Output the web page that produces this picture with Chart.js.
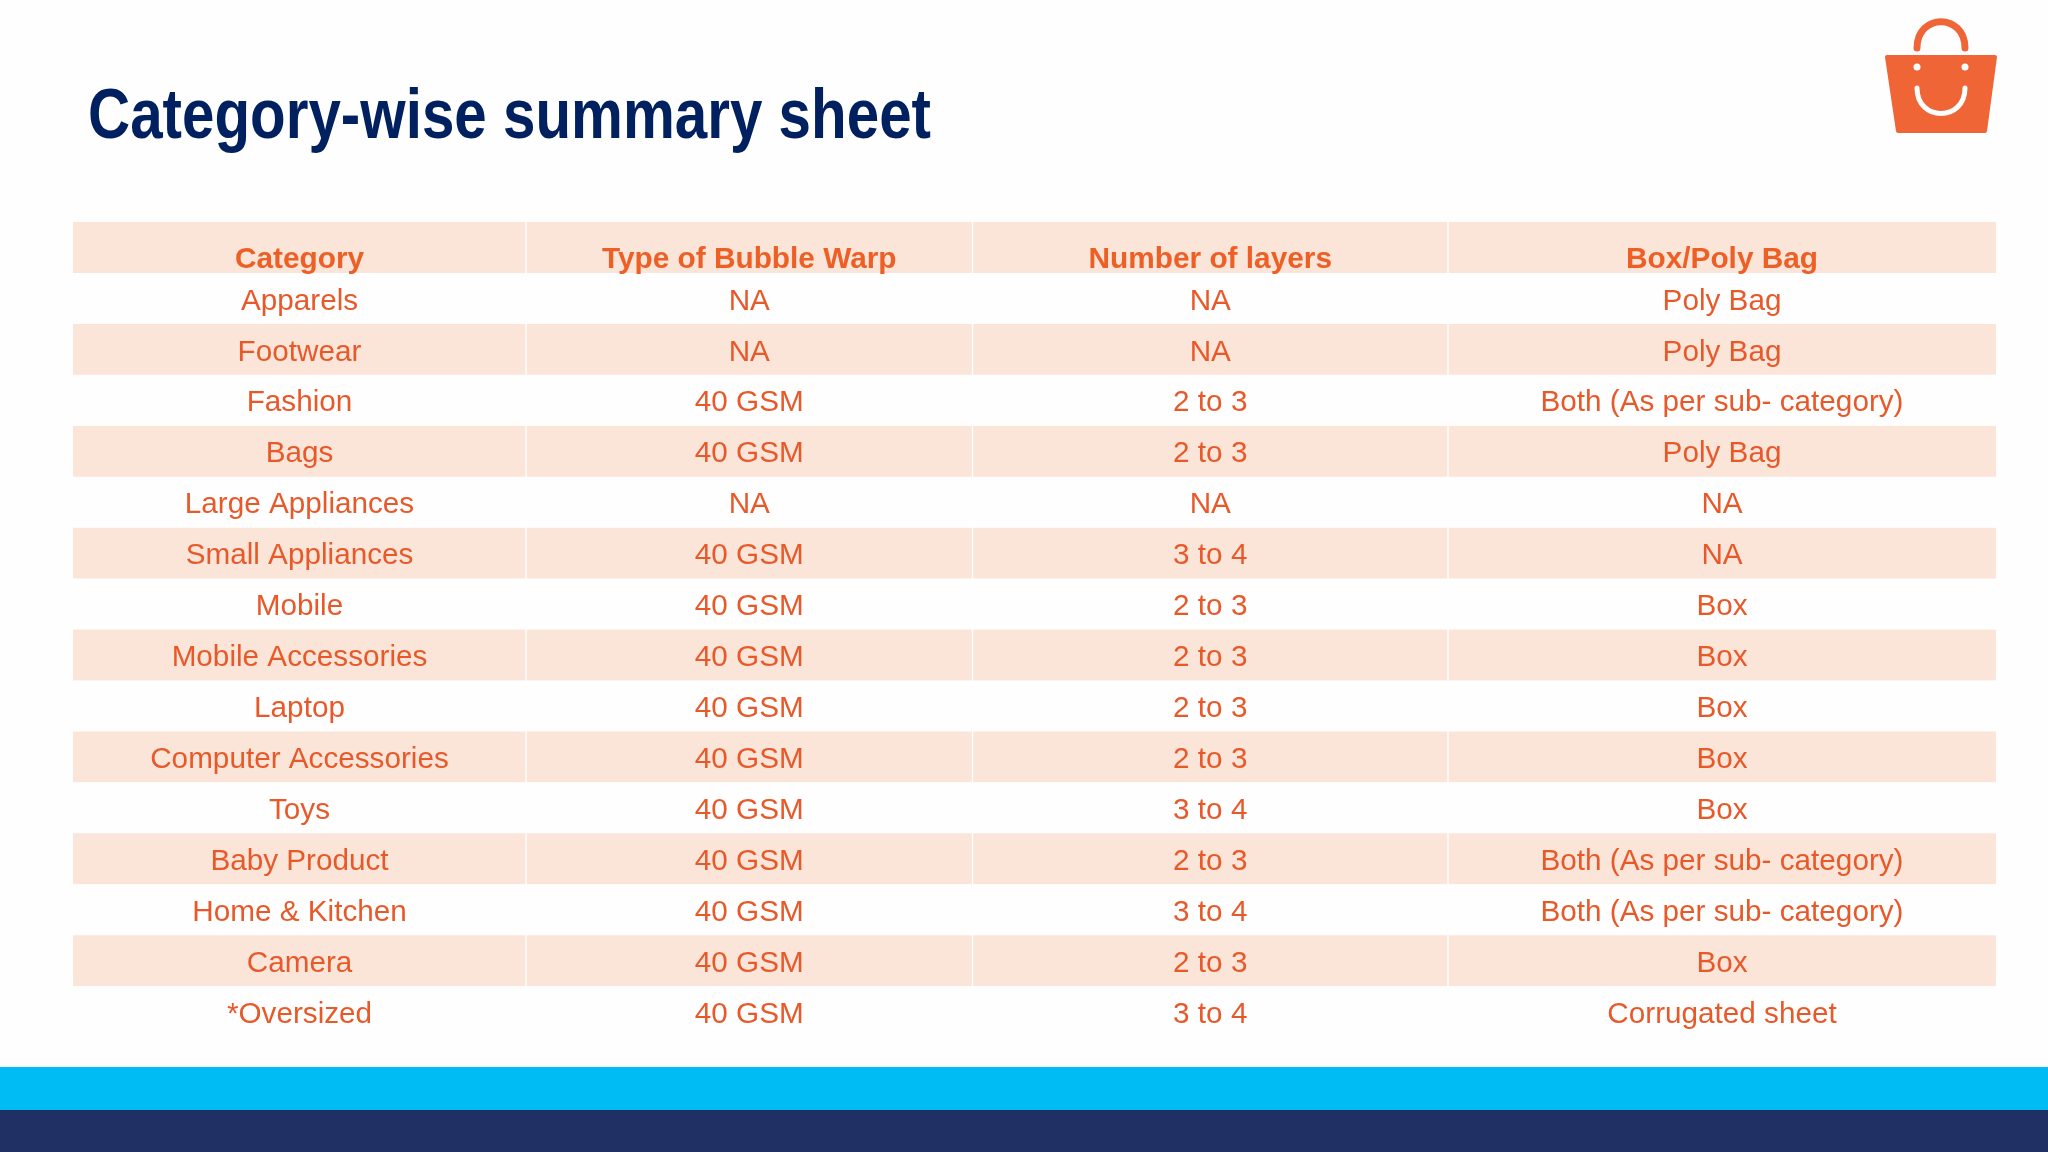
<!DOCTYPE html>
<html>
<head>
<meta charset="utf-8">
<title>Category-wise summary sheet</title>
<script src="https://cdn.jsdelivr.net/npm/chart.js@4/dist/chart.umd.min.js"></script>
<style>
  html, body { margin: 0; padding: 0; background: #fefefe; }
  canvas { display: block; }
</style>
</head>
<body>
<canvas id="sheet" width="2048" height="1152"></canvas>
<script>
const titleText = 'Category-wise summary sheet';
const headers = ['Category', 'Type of Bubble Warp', 'Number of layers', 'Box/Poly Bag'];
const categories = ['Apparels', 'Footwear', 'Fashion', 'Bags', 'Large Appliances', 'Small Appliances', 'Mobile',
  'Mobile Accessories', 'Laptop', 'Computer Accessories', 'Toys', 'Baby Product', 'Home & Kitchen', 'Camera', '*Oversized'];
const bubbleWrap = ['NA', 'NA', '40 GSM', '40 GSM', 'NA', '40 GSM', '40 GSM', '40 GSM', '40 GSM', '40 GSM', '40 GSM', '40 GSM', '40 GSM', '40 GSM', '40 GSM'];
const layers = ['NA', 'NA', '2 to 3', '2 to 3', 'NA', '3 to 4', '2 to 3', '2 to 3', '2 to 3', '2 to 3', '3 to 4', '2 to 3', '3 to 4', '2 to 3', '3 to 4'];
const packaging = ['Poly Bag', 'Poly Bag', 'Both (As per sub- category)', 'Poly Bag', 'NA', 'NA', 'Box', 'Box', 'Box', 'Box', 'Box',
  'Both (As per sub- category)', 'Both (As per sub- category)', 'Box', 'Corrugated sheet'];

// column boundaries in x-axis units, columns are not equally wide
const columnEdges = [0, 453, 899.5, 1375, 1923];
const columns = [categories, bubbleWrap, layers, packaging];
const rows = [headers[0]].concat(categories);

const BAND = '#fbe4d8';
const CELL_TEXT = '#e8592a';
const HEAD_TEXT = '#ee5f26';
const LOGO = '#f06536';
const PAPER = '#fefefe';

const slideDecor = {
  id: 'slideDecor',
  beforeDraw(chart) {
    const c = chart.ctx;
    c.save();
    c.fillStyle = PAPER;
    c.fillRect(0, 0, 2048, 1152);
    // footer strips
    c.fillStyle = '#00bcf5';
    c.fillRect(0, 1067, 2048, 43);
    c.fillStyle = '#203064';
    c.fillRect(0, 1110, 2048, 42);
    // title, squeezed because no narrow face is installed
    c.fillStyle = '#002060';
    c.font = 'bold 70px "Liberation Sans"';
    c.textAlign = 'left';
    c.textBaseline = 'alphabetic';
    c.fillText(titleText, 88, 138, 843);
    // bag logo
    c.fillStyle = LOGO;
    c.strokeStyle = LOGO;
    c.lineJoin = 'round';
    c.lineWidth = 4;
    c.beginPath();
    c.moveTo(1887, 57);
    c.lineTo(1995, 57);
    c.lineTo(1985, 131);
    c.lineTo(1898, 131);
    c.closePath();
    c.fill();
    c.stroke();
    c.lineWidth = 7;
    c.lineCap = 'round';
    c.beginPath();
    c.moveTo(1917, 48);
    c.bezierCurveTo(1917, 13, 1965, 13, 1965, 48);
    c.stroke();
    c.fillStyle = PAPER;
    c.beginPath();
    c.arc(1917, 67, 3.5, 0, Math.PI * 2);
    c.arc(1965, 67, 3.5, 0, Math.PI * 2);
    c.fill();
    c.strokeStyle = PAPER;
    c.lineWidth = 5;
    c.beginPath();
    c.moveTo(1917, 88);
    c.bezierCurveTo(1917, 122, 1965, 122, 1965, 88);
    c.stroke();
    c.restore();
  }
};

const cellText = {
  id: 'cellText',
  afterDatasetsDraw(chart) {
    const c = chart.ctx;
    const xs = chart.scales.x, ys = chart.scales.y;
    c.save();
    c.textAlign = 'center';
    c.textBaseline = 'middle';
    columns.forEach((col, i) => {
      const cx = xs.getPixelForValue((columnEdges[i] + columnEdges[i + 1]) / 2);
      c.fillStyle = HEAD_TEXT;
      c.font = 'bold 29.8px "Liberation Sans"';
      c.fillText(headers[i], cx, ys.getPixelForValue(0) + 12);
      c.fillStyle = CELL_TEXT;
      c.font = '29.7px "Liberation Sans"';
      col.forEach((txt, r) => c.fillText(txt, cx, ys.getPixelForValue(r + 1) + 3));
    });
    c.restore();
  }
};

new Chart(document.getElementById('sheet'), {
  type: 'bar',
  data: {
    labels: rows,
    datasets: columns.map((col, i) => ({
      label: headers[i],
      data: rows.map(() => [columnEdges[i], columnEdges[i + 1]]),
      backgroundColor: ctx => (ctx.dataIndex % 2 === 0 ? BAND : 'rgba(0,0,0,0)'),
      borderColor: ctx => (ctx.dataIndex % 2 === 0 ? '#ffffff' : 'rgba(0,0,0,0)'),
      borderWidth: { left: i ? 1 : 0, right: i < 3 ? 1 : 0, top: 0, bottom: 0 },
      borderSkipped: false,
      barPercentage: 1,
      categoryPercentage: 1,
      grouped: false
    }))
  },
  options: {
    indexAxis: 'y',
    responsive: false,
    animation: false,
    devicePixelRatio: 1,
    layout: { padding: { left: 73, right: 52, top: 222, bottom: 115 } },
    plugins: { legend: { display: false }, tooltip: { enabled: false } },
    scales: {
      x: { type: 'linear', display: false, min: 0, max: 1923 },
      y: { type: 'category', display: false }
    }
  },
  plugins: [slideDecor, cellText]
});
</script>
</body>
</html>
